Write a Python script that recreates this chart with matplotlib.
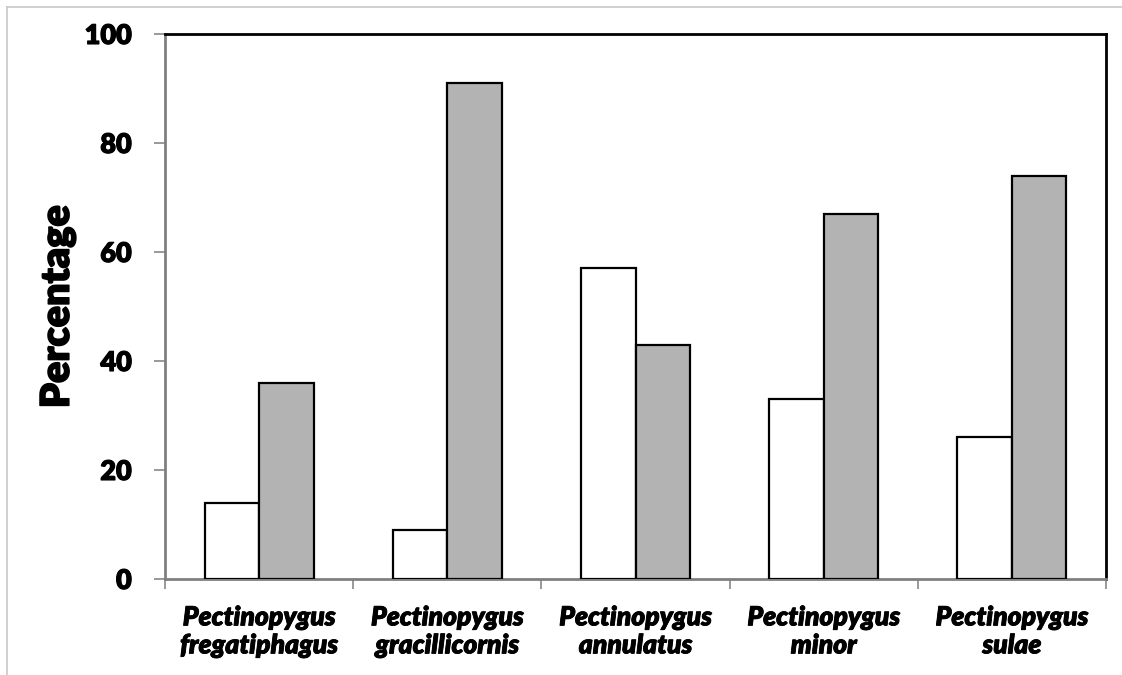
import matplotlib
matplotlib.use("Agg")
import matplotlib.pyplot as plt
from matplotlib.lines import Line2D
import matplotlib.patheffects as pe
import numpy as np

categories = ["Pectinopygus\nfregatiphagus", "Pectinopygus\ngracillicornis",
              "Pectinopygus\nannulatus", "Pectinopygus\nminor", "Pectinopygus\nsulae"]
white_vals = [14, 9, 57, 33, 26]
grey_vals = [36, 91, 43, 67, 74]
yticks = [0, 20, 40, 60, 80, 100]

plt.rcParams['font.family'] = ['Lato', 'DejaVu Sans']

W, H = 1122, 675
fig = plt.figure(figsize=(W / 100, H / 100), dpi=100)
ax = fig.add_axes([165 / W, 1 - 579 / H, (1106 - 165) / W, (579 - 34) / H])

x = np.arange(len(categories))
bw = 0.29
ax.bar(x - bw / 2, white_vals, bw, color='white', edgecolor='black', linewidth=1.6, zorder=3)
ax.bar(x + bw / 2, grey_vals, bw, color='#b3b3b3', edgecolor='black', linewidth=1.6, zorder=3)

ax.set_xlim(-0.5, len(categories) - 0.5)
ax.set_ylim(0, 100)

ax.set_yticks(yticks)
ax.set_yticklabels([str(v) for v in yticks], fontsize=19.5, fontweight='heavy')
ax.tick_params(axis='y', direction='out', length=8, width=1.2, color='#888888', pad=16)
for t in ax.get_yticklabels():
    t.set_path_effects([pe.withStroke(linewidth=0.8, foreground='black')])

ax.set_xticks(np.arange(-0.5, len(categories), 1.0))
ax.set_xticklabels([])
ax.tick_params(axis='x', which='major', direction='out', length=7, width=1.2, color='#888888')
ax.set_xticks(x, minor=True)
ax.set_xticklabels(categories, minor=True, fontsize=19, fontweight='heavy', style='italic',
                   linespacing=1.2)
ax.tick_params(axis='x', which='minor', length=0, pad=19)
for t in ax.get_xticklabels(minor=True):
    t.set_path_effects([pe.withStroke(linewidth=0.6, foreground='black')])

for s in ['left', 'bottom']:
    ax.spines[s].set_color('#808080')
    ax.spines[s].set_linewidth(2)
for s in ['top', 'right']:
    ax.spines[s].set_color('black')
    ax.spines[s].set_linewidth(2)

yl = ax.set_ylabel('Percentage', fontsize=28.5, fontweight='heavy', labelpad=6)
yl.set_path_effects([pe.withStroke(linewidth=1.1, foreground='black')])

fig.add_artist(Line2D([7 / W, 7 / W], [0, 1 - 7 / H], transform=fig.transFigure,
                      color='#c8c8c8', linewidth=1.2))
fig.add_artist(Line2D([7 / W, 1], [1 - 7 / H, 1 - 7 / H], transform=fig.transFigure,
                      color='#c8c8c8', linewidth=1.2))

fig.savefig('out.png', dpi=100)
